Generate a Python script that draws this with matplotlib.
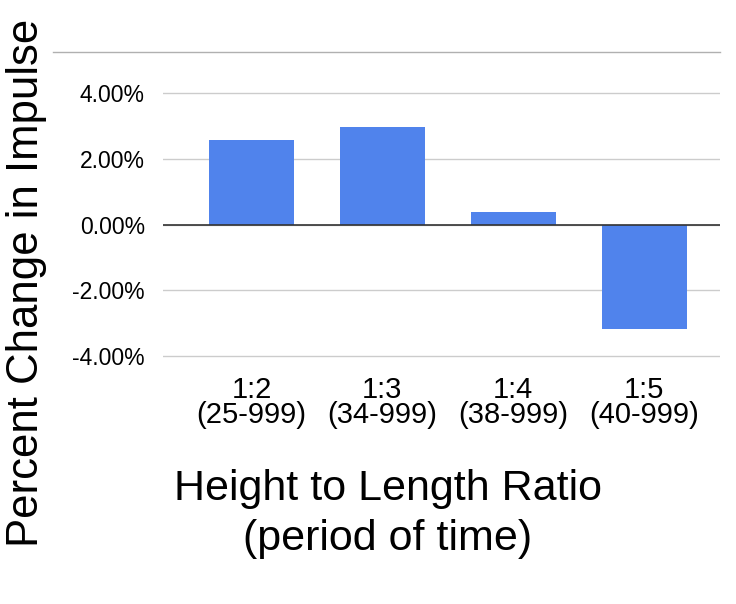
import matplotlib.pyplot as plt
from matplotlib.lines import Line2D
from matplotlib.ticker import FuncFormatter

# data
ratios = ["1:2\n(25-999)", "1:3\n(34-999)", "1:4\n(38-999)", "1:5\n(40-999)"]
change = [2.57, 2.96, 0.38, -3.18]   # percent
yticks = [-4, -2, 0, 2, 4]

plt.rcParams['font.family'] = ['Liberation Sans', 'DejaVu Sans']

fig = plt.figure(figsize=(7.36, 6.04), dpi=100)
# axes box: 0% at y=224.5 px, 32.9 px per percent
ax = fig.add_axes([163/736, 1 - 358/604, (720 - 163)/736, (358 - 91)/604])

x = range(len(ratios))
ax.bar(x, change, width=0.65, color="#5083EC", zorder=3)
ax.axhline(0, color="#333333", lw=1.2, zorder=4)

ax.set_xlim(-0.676, 3.58)
ax.set_ylim(-4.06, 4.06)
ax.set_yticks(yticks)
ax.yaxis.set_major_formatter(FuncFormatter(lambda v, p: "%.2f%%" % v))
ax.grid(axis="y", color="#cccccc", lw=1, zorder=0)
for s in ax.spines.values():
    s.set_visible(False)
ax.set_xticks(list(x))
ax.set_xticklabels(ratios, fontsize=21, linespacing=0.85)
ax.tick_params(axis="x", length=0, pad=13)
ax.tick_params(axis="y", length=0, pad=13, labelsize=16.5)

# top border line of the chart area
fig.add_artist(Line2D([53/736, 720/736], [1 - 52/604, 1 - 52/604],
                      color="#b0b0b0", lw=1))

fig.text(388/736, 1 - 514/604, "Height to Length Ratio\n(period of time)",
         ha="center", va="center", fontsize=31, linespacing=1.3)
fig.text(27/736, 1 - 283/604, "Percent Change in Impulse",
         ha="center", va="center", rotation=90, fontsize=31.5)

fig.savefig("out.png", dpi=100)
